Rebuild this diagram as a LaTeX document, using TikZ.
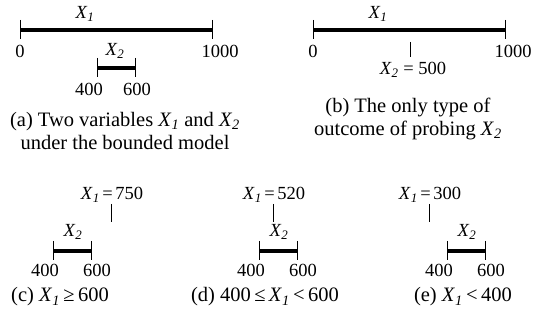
\documentclass[tikz,border=0pt]{standalone}
\usepackage{fontspec}
\setmainfont{Liberation Serif}
\usetikzlibrary{positioning}
\newcommand{\xone}{\textit{X}\textsubscript{\textit{1}}}
\newcommand{\xtwo}{\textit{X}\textsubscript{\textit{2}}}
\tikzset{
  bar/.style={line width=4pt},
  tk/.style={line width=0.8pt},
  lbl/.style={font=\fontsize{18.5}{22}\selectfont,inner sep=0pt,align=center},
  captxt/.style={font=\fontsize{20.5}{23}\selectfont,inner sep=0pt,align=center},
}

\begin{document}
\begin{tikzpicture}[x=1pt,y=-1pt]
\useasboundingbox (0,0) rectangle (533,320);
% (a) both ranges
\coordinate (a0) at (20,30);
\coordinate (a1000) at (212,30);
\coordinate (a400) at (97,68);
\coordinate (a600) at (135,68);
\draw[bar] (a0) -- (a1000);
\draw[bar] (a400) -- (a600);
\foreach \p in {a0,a1000,a400,a600}
  \draw[tk] ([yshift=10pt]\p) -- ([yshift=-9pt]\p);
\node[lbl] (a-x1) at (85,14) {\xone};
\node[lbl] (a-lo) at (20,51) {0};
\node[lbl] (a-hi) at (220,51) {1000};
\node[lbl] (a-x2) at (115,51) {\xtwo};
\node[lbl] (a-400) at (89,89) {400};
\node[lbl] (a-600) at (137,89) {600};
\node[captxt] (a-cap) at (125,131) {(a) Two variables \xone{} and \xtwo\\under the bounded model};
% (b) probing X2
\coordinate (b0) at (313,30);
\coordinate (b1000) at (505,30);
\coordinate (b500) at (410,50);
\draw[bar] (b0) -- (b1000);
\foreach \p in {b0,b1000}
  \draw[tk] ([yshift=10pt]\p) -- ([yshift=-9pt]\p);
\draw[tk] ([yshift=8pt]b500) -- ([yshift=-7pt]b500);
\node[lbl] (b-x1) at (378,14) {\xone};
\node[lbl] (b-lo) at (313,51) {0};
\node[lbl] (b-hi) at (513,51) {1000};
\node[lbl] (b-x2) at (413,70) {\xtwo{} = 500};
\node[captxt] (b-cap) at (408,119) {(b) The only type of\\outcome of probing \xtwo};
% (c)-(e) three outcomes
\foreach \n/\v/\t/\lo/\cx/\txt in {
    c/750/111/53/60/{(c) \xone\,≥\,600},
    d/520/273/259/265/{(d) 400\,≤\,\xone\,<\,600},
    e/300/429/447/463/{(e) \xone\,<\,400}}{
  \coordinate (\n400) at (\lo,251);
  \coordinate (\n600) at (\lo+38,251);
  \coordinate (\n-t) at (\t,213);
  \draw[bar] (\n400) -- (\n600);
  \foreach \p in {\n400,\n600}
    \draw[tk] ([yshift=10pt]\p) -- ([yshift=-9pt]\p);
  \draw[tk] ([yshift=9pt]\n-t) -- ([yshift=-9pt]\n-t);
  \node[lbl] (\n-x1) at (\t+1,195) {\xone\kern2.5pt=\kern2.5pt\v};
  \node[lbl] (\n-x2) at (\lo+20,232) {\xtwo};
  \node[lbl] (\n-lo) at (\lo-8,270) {400};
  \node[lbl] (\n-hi) at (\lo+44,270) {600};
  \node[captxt] (\n-cap) at (\cx,297) {\txt};
}
\end{tikzpicture}
\end{document}
